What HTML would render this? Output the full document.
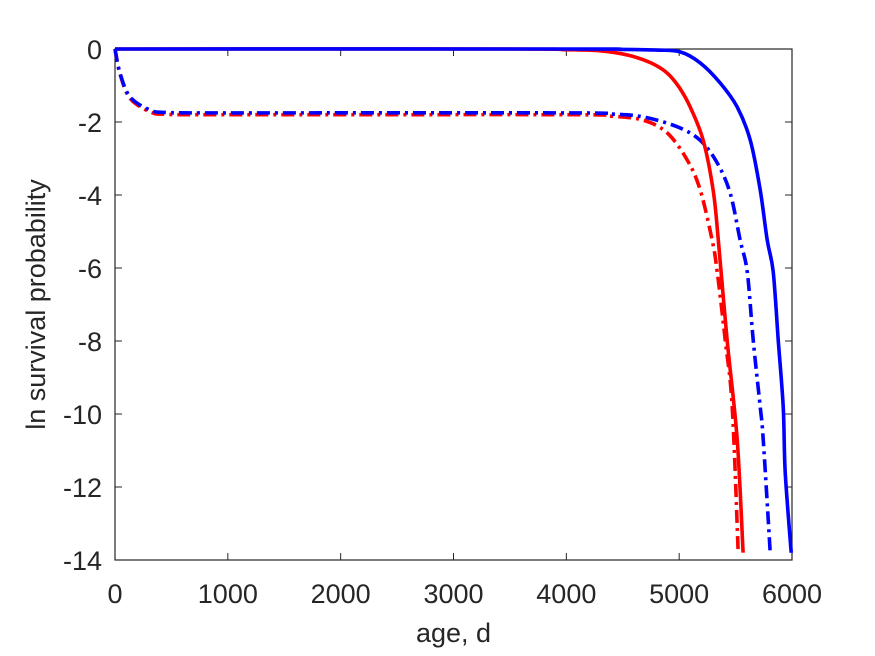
<!DOCTYPE html>
<html><head><meta charset="utf-8"><style>body{margin:0;background:#fff}svg{display:block}text{font-family:"Liberation Sans",sans-serif;fill:#262626}</style></head>
<body>
<svg id="chart" width="875" height="656"></svg>
<script>
const xTicks=[0,1000,2000,3000,4000,5000,6000];
const yTicks=[0,-2,-4,-6,-8,-10,-12,-14];
const redSolid=[[0,0],[3500,0],[4000,-0.02],[4300,-0.05],[4550,-0.17],[4750,-0.38],[4894,-0.66],[5000,-1.05],[5098,-1.59],[5213,-2.5],[5301,-3.86],[5346,-5.2],[5425,-7.97],[5514,-10.7],[5567,-13.8]];
const blueSolid=[[0,0],[4000,0],[4500,-0.01],[4800,-0.03],[5009,-0.08],[5186,-0.38],[5363,-0.93],[5514,-1.59],[5630,-2.5],[5718,-3.86],[5780,-5.23],[5833,-6.1],[5878,-7.97],[5922,-9.8],[5940,-11.6],[5993,-13.8]];
const blueDash=[[0,0],[44,-0.66],[133,-1.31],[310,-1.67],[460,-1.74],[1000,-1.75],[4000,-1.75],[4400,-1.78],[4681,-1.86],[4982,-2.13],[5186,-2.5],[5337,-3.12],[5452,-3.95],[5540,-5.23],[5603,-6.1],[5656,-7.97],[5718,-9.8],[5745,-10.7],[5807,-13.8]];
const redDash=[[0,0],[44,-0.68],[133,-1.35],[310,-1.72],[460,-1.79],[1000,-1.8],[4000,-1.8],[4400,-1.84],[4681,-1.95],[4894,-2.3],[5071,-3.04],[5186,-3.86],[5292,-5.23],[5337,-6.1],[5408,-7.97],[5470,-9.8],[5523,-13.8]];
const L=115,R=792,T=49,B=560;
const sx=v=>L+(v-0)/6000*(R-L);
const sy=v=>T+(0-v)/14*(B-T);
const svg=document.getElementById('chart');
const NS='http://www.w3.org/2000/svg';
function mk(tag,attrs,parent){const e=document.createElementNS(NS,tag);for(const k in attrs)e.setAttribute(k,attrs[k]);(parent||svg).appendChild(e);return e;}
const axes=mk('rect',{x:L,y:T,width:R-L,height:B-T,fill:'#fff',stroke:'#262626','stroke-width':1.2});


xTicks.forEach(t=>{
 const x=sx(t);
 mk('line',{x1:x,x2:x,y1:B,y2:B-7,stroke:'#262626'});
 mk('line',{x1:x,x2:x,y1:T,y2:T+7,stroke:'#262626'});
 const tx=mk('text',{x:x,y:B+43,'text-anchor':'middle','font-size':'27'});
 tx.textContent=t;
 
 
});
yTicks.forEach(t=>{
 const y=sy(t);
 mk('line',{x1:L,x2:L+7,y1:y,y2:y,stroke:'#262626'});
 mk('line',{x1:R,x2:R-7,y1:y,y2:y,stroke:'#262626'});
 const tx=mk('text',{x:L-13,y:y+10,'text-anchor':'end','font-size':'27'});
 tx.textContent=t;
 
 
});
const xl=mk('text',{x:(L+R)/2,y:642,'text-anchor':'middle','font-size':'27'});
xl.textContent='age, d';


const yl=mk('text',{x:0,y:0,'text-anchor':'middle','font-size':'27',transform:'translate(45,'+((T+B)/2)+') rotate(-90)'});
yl.textContent='ln survival probability';


function smoothPath(pts){
 let d='M'+pts[0][0].toFixed(1)+','+pts[0][1].toFixed(1);
 for(let i=0;i<pts.length-1;i++){
  const p0=pts[Math.max(i-1,0)],p1=pts[i],p2=pts[i+1],p3=pts[Math.min(i+2,pts.length-1)];
  const c1x=p1[0]+(p2[0]-p0[0])/6,c1y=p1[1]+(p2[1]-p0[1])/6;
  const c2x=p2[0]-(p3[0]-p1[0])/6,c2y=p2[1]-(p3[1]-p1[1])/6;
  d+='C'+c1x.toFixed(1)+','+c1y.toFixed(1)+' '+c2x.toFixed(1)+','+c2y.toFixed(1)+' '+p2[0].toFixed(1)+','+p2[1].toFixed(1);
 }
 return d;
}
function line(data,color,dash,name){
 const pts=data.map(p=>[sx(p[0]),sy(p[1])]);
 const attrs={d:smoothPath(pts),fill:'none',stroke:color,'stroke-width':3.6,'stroke-linejoin':'round'};
 if(dash)attrs['stroke-dasharray']='13,5,3,5';
 const p=mk('path',attrs);
 
 
}
line(redDash,'#ff0000',true,'red-dashdot-series');
line(blueDash,'#0000ff',true,'blue-dashdot-series');
line(redSolid,'#ff0000',false,'red-solid-series');
line(blueSolid,'#0000ff',false,'blue-solid-series');
</script>
</body></html>
